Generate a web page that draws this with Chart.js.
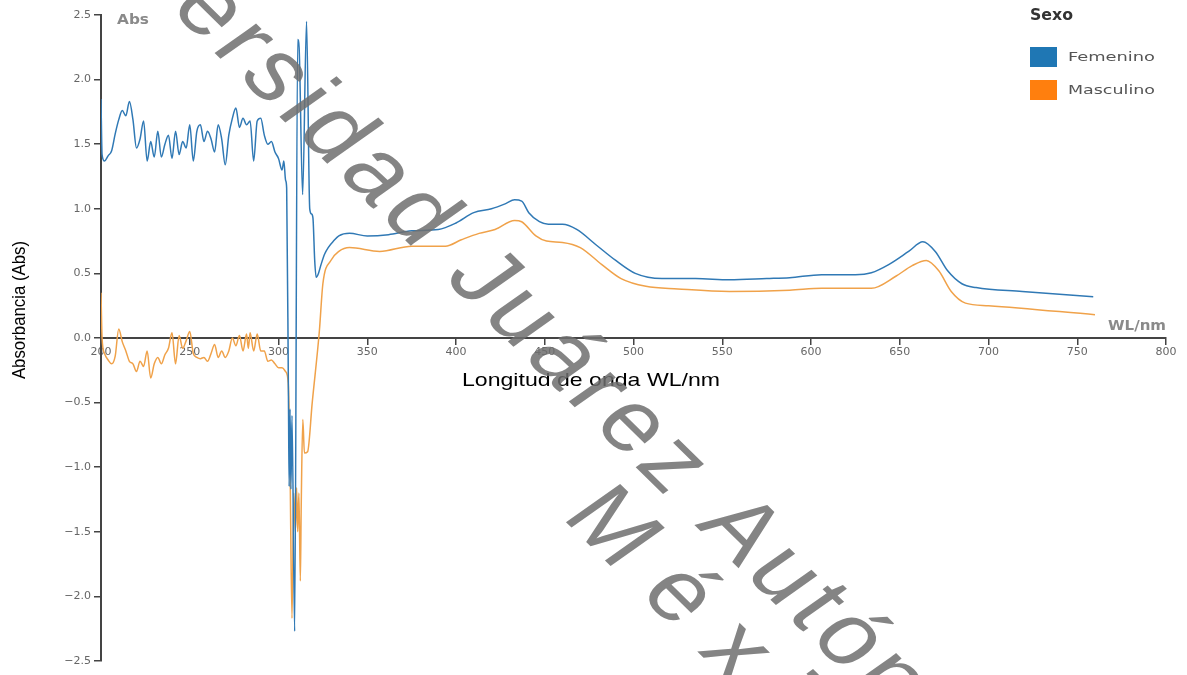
<!DOCTYPE html>
<html>
<head>
<meta charset="utf-8">
<script src="https://cdn.jsdelivr.net/npm/chart.js@4.4.0/dist/chart.umd.min.js"></script>
<style>
html, body { margin: 0; padding: 0; background: #fff; }
</style>
</head>
<body>
<canvas id="mycanvas" width="1187" height="675"></canvas>
<script>
// Femenino
var wlFem = [200, 200.6, 202, 204, 206, 208, 210, 212, 214, 216, 218, 220, 222, 224, 226, 228, 230, 232, 234, 236, 238,
	240, 242, 244, 246, 248, 250, 252, 254, 256, 258, 260, 262, 264, 266, 268, 270, 272, 274, 276, 278, 280, 282, 284,
	286, 288, 290, 292, 294, 296, 298, 300, 302, 303, 304, 304.6, 305.6, 306, 306.5, 307, 307.6, 309.1, 310.8, 311.6,
	313.6, 315.8, 317.6, 318.6, 319.4, 320.4, 321.2, 322.5, 324, 326, 328, 331, 334, 340, 350, 362, 375, 390, 400, 410,
	420, 428, 433, 437, 441, 447, 452, 460, 468, 479, 490, 501, 516, 535, 554, 575, 588, 606, 625, 634, 644, 655, 663,
	670, 677, 685, 693, 719, 759];
var absFem = [1.85, 1.42, 1.37, 1.41, 1.45, 1.58, 1.69, 1.76, 1.72, 1.83, 1.69, 1.47, 1.54, 1.68, 1.37, 1.52, 1.40, 1.60, 1.40, 1.50, 1.57,
	1.39, 1.60, 1.42, 1.52, 1.47, 1.65, 1.37, 1.60, 1.65, 1.52, 1.60, 1.54, 1.44, 1.65, 1.54, 1.34, 1.57, 1.70, 1.78, 1.63, 1.70, 1.65, 1.68,
	1.37, 1.68, 1.70, 1.57, 1.50, 1.52, 1.44, 1.39, 1.30, 1.37, 1.22, 1.16, -0.45, -1.15, -0.55, -1.17, -0.60, -2.27, 2.31, 2.25,
	1.11, 2.45, 1.00, 0.96, 0.93, 0.60, 0.47, 0.50, 0.57, 0.65, 0.70, 0.75, 0.79, 0.81, 0.79, 0.80, 0.83, 0.84, 0.89, 0.97,
	1.00, 1.04, 1.07, 1.06, 0.97, 0.90, 0.88, 0.88, 0.84, 0.72, 0.60, 0.50, 0.46, 0.46, 0.45, 0.46, 0.467, 0.49, 0.49, 0.505, 0.57, 0.67, 0.745,
	0.67, 0.52, 0.42, 0.39, 0.36, 0.32];

// Masculino
var wlMasc = [200, 200.6, 202, 204, 206, 208, 210, 212, 214, 216, 218, 220, 222, 224, 226, 228, 230, 232, 234, 236, 238,
	240, 242, 244, 246, 248, 250, 252, 254, 256, 258, 260, 262, 264, 266, 268, 270, 272, 274, 276, 278, 280, 282, 283,
	284, 286, 288, 290, 292, 294, 296, 298, 300, 302, 304, 305.5, 306.5, 307.6, 308.6, 309.5, 310.2, 310.8, 311.5, 312.3,
	312.8, 313.7, 314.6, 316.4, 319, 323, 325, 329.5, 334, 340, 357, 375, 394, 403, 413, 422, 433, 437, 445, 451, 460,
	470, 482, 493, 507, 525, 554, 588, 606, 634, 648, 657, 665, 672, 679, 687, 700, 760];
var absMasc = [0.35, 0.0, -0.12, -0.17, -0.20, -0.14, 0.07, -0.03, -0.10, -0.18, -0.20, -0.26, -0.18, -0.22, -0.10, -0.31, -0.20, -0.15, -0.20, -0.13, -0.08,
	0.04, -0.20, 0.02, -0.08, -0.02, 0.05, -0.12, -0.15, -0.16, -0.15, -0.18, -0.12, -0.05, -0.15, -0.10, -0.15, -0.10, 0.0, -0.06, 0.02, -0.10, 0.03, -0.08,
	0.04, -0.10, 0.03, -0.10, -0.10, -0.18, -0.17, -0.20, -0.23, -0.23, -0.26, -0.35, -1.00, -2.17, -1.20, -1.50, -1.16, -1.50, -1.20, -1.88,
	-1.30, -0.63, -0.89, -0.88, -0.50, 0.05, 0.42, 0.60, 0.67, 0.70, 0.67, 0.71, 0.71, 0.76, 0.81, 0.84, 0.91, 0.90, 0.79, 0.75, 0.74,
	0.70, 0.57, 0.46, 0.40, 0.38, 0.36, 0.37, 0.385, 0.385, 0.48, 0.56, 0.60, 0.52, 0.36, 0.27, 0.25, 0.18];

var series = ['Femenino', 'Masculino'];
var coloresLinea = ['#3079b5', '#f0a24a'];
var coloresLeyenda = ['#1f77b4', '#ff7f0e'];

function puntos(xs, ys) {
	var p = [];
	for (var i = 0; i < xs.length; i++) {
		p.push({x: xs[i], y: ys[i]});
	}
	return p;
}

// texto estirado a un ancho dado
function texto(ctx, str, x, y, font, color, ancho, align) {
	ctx.save();
	ctx.font = font;
	ctx.fillStyle = color;
	ctx.textBaseline = 'middle';
	ctx.textAlign = 'left';
	var w = ctx.measureText(str).width;
	var sx = ancho ? ancho / w : 1;
	if (align === 'center') x = x - w * sx / 2;
	if (align === 'right') x = x - w * sx;
	ctx.translate(x, y);
	ctx.scale(sx, 1);
	ctx.fillText(str, 0, 0);
	ctx.restore();
}

var extras = {
	id: 'extras',
	afterDraw: function(chart) {
		var ctx = chart.ctx;

		// titulos de ejes
		texto(ctx, 'Longitud de onda WL/nm', 591, 381, '19px "Liberation Sans", Arial', '#000', 258, 'center');
		ctx.save();
		ctx.translate(20, 310);
		ctx.rotate(-Math.PI / 2);
		ctx.scale(1.05, 1.2);
		ctx.font = '16px "Liberation Sans", Arial';
		ctx.fillStyle = '#000';
		ctx.textAlign = 'center';
		ctx.textBaseline = 'middle';
		ctx.fillText('Absorbancia (Abs)', 0, 0);
		ctx.restore();

		texto(ctx, 'Abs', 117, 20, 'bold 14px "DejaVu Sans"', '#8a8a8a', 32);
		texto(ctx, 'WL/nm', 1166, 326, 'bold 14px "DejaVu Sans"', '#8a8a8a', 58, 'right');

		// leyenda
		texto(ctx, 'Sexo', 1030, 16, 'bold 15px "DejaVu Sans"', '#333', 43);
		for (var i = 0; i < series.length; i++) {
			var y0 = 47 + i * 33;
			ctx.fillStyle = coloresLeyenda[i];
			ctx.fillRect(1030, y0, 27, 20);
			texto(ctx, series[i], 1068, y0 + 11, '12px "DejaVu Sans"', '#555', 87);
		}

		// marca de agua
		ctx.save();
		ctx.translate(190, -8);
		ctx.scale(1.2, 1);
		ctx.rotate(0.868);
		ctx.font = '86px "Liberation Sans", Arial';
		ctx.letterSpacing = '6px';
		ctx.fillStyle = 'rgba(110, 110, 110, 0.85)';
		ctx.textBaseline = 'middle';
		var off = ctx.measureText('Univ').width;
		ctx.fillText('Universidad Juárez Autónoma de Tabasco', -off, 0);
		ctx.letterSpacing = '28px';
		ctx.fillText('México', 600, 80);
		ctx.restore();
	}
};

var ctx = document.getElementById('mycanvas');

var chartdata = {
	datasets: [
		{
			label: series[0],
			data: puntos(wlFem, absFem),
			borderColor: coloresLinea[0],
			borderWidth: 1.5,
			pointRadius: 0,
			cubicInterpolationMode: 'monotone',
			fill: false
		},
		{
			label: series[1],
			data: puntos(wlMasc, absMasc),
			borderColor: coloresLinea[1],
			borderWidth: 1.5,
			pointRadius: 0,
			cubicInterpolationMode: 'monotone',
			fill: false
		}
	]
};

var tickFont = {family: 'DejaVu Sans', size: 11};

var lineGraph = new Chart(ctx, {
	type: 'line',
	data: chartdata,
	plugins: [extras],
	options: {
		responsive: false,
		animation: false,
		layout: {padding: {top: 15, right: 21, bottom: 14, left: 0}},
		plugins: {
			legend: {display: false},
			tooltip: {enabled: false}
		},
		scales: {
			x: {
				type: 'linear',
				position: {y: 0},
				min: 200,
				max: 800,
				ticks: {stepSize: 50, color: '#666', font: tickFont, padding: 2, maxRotation: 0},
				grid: {drawOnChartArea: false, drawTicks: true, tickLength: 6, color: '#444', lineWidth: 1.5},
				border: {color: '#444', width: 2}
			},
			y: {
				type: 'linear',
				min: -2.5,
				max: 2.5,
				afterFit: function(s) { s.width = 101; },
				ticks: {
					stepSize: 0.5,
					color: '#666',
					font: tickFont,
					padding: 3,
					callback: function(v) { return v.toFixed(1).replace('-', '\u2212'); }
				},
				grid: {drawOnChartArea: false, drawTicks: true, tickLength: 7, color: '#444', lineWidth: 1.5},
				border: {color: '#444', width: 2}
			}
		}
	}
});
</script>
</body>
</html>
